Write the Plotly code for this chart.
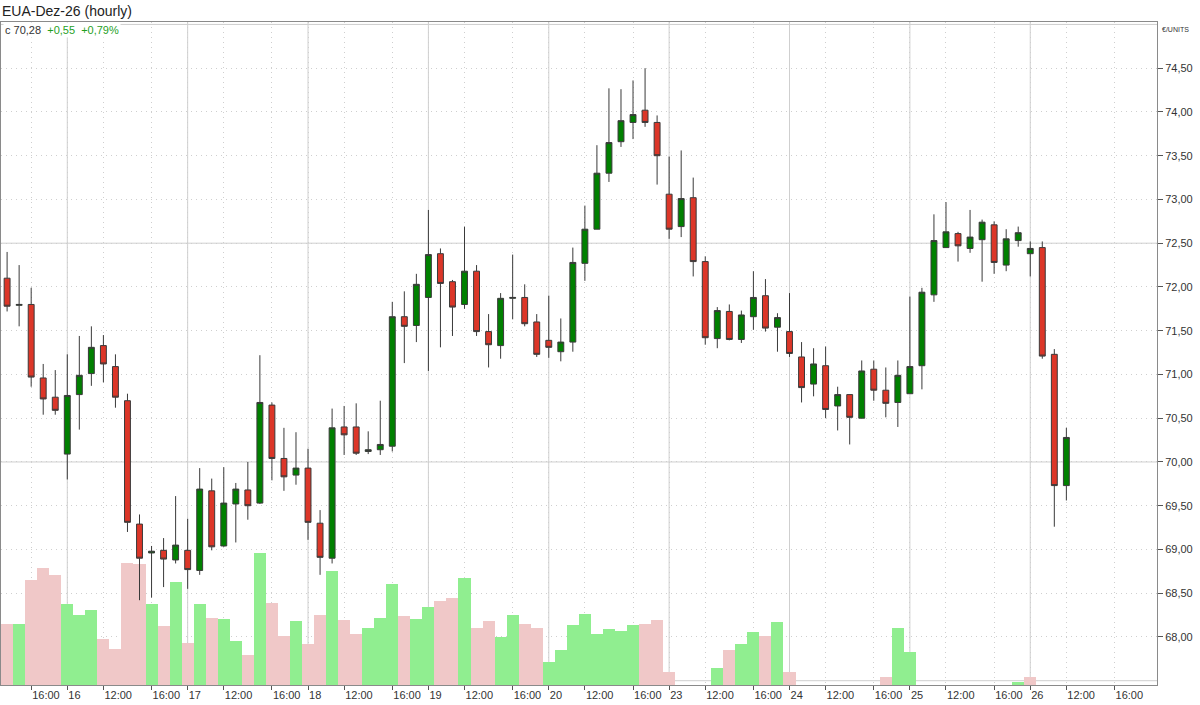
import plotly.graph_objects as go

# hourly candles, index 0 = day 15 14:00 ... index 88 = day 26 12:00
opens = [72.10, 71.79, 71.80, 70.96, 70.74, 70.09, 70.77, 71.01, 71.33, 71.09,
         70.70, 69.29, 68.96, 68.99, 68.88, 68.99, 68.76, 69.67, 69.04, 69.52,
         69.68, 69.53, 70.65, 70.04, 69.85, 69.93, 69.30, 68.90, 70.40, 70.40,
         70.12, 70.14, 70.18, 71.66, 71.56, 71.88, 72.38, 72.06, 71.80, 72.18,
         71.49, 71.33, 71.87, 71.88, 71.60, 71.39, 71.26, 71.37, 72.27, 72.66,
         73.30, 73.66, 73.88, 74.02, 73.88, 73.06, 72.69, 73.02, 72.29, 71.41,
         71.72, 71.40, 71.66, 71.90, 71.54, 71.49, 71.20, 70.89, 71.10, 70.64,
         70.77, 70.50, 71.06, 70.82, 70.68, 70.78, 71.10, 71.91, 72.45, 72.61,
         72.44, 72.54, 72.71, 72.25, 72.53, 72.38, 72.45, 71.23, 69.73]
highs = [72.40, 72.25, 71.99, 71.12, 71.05, 71.23, 71.44, 71.55, 71.45, 71.23,
         70.78, 69.40, 69.04, 69.13, 69.61, 69.35, 69.93, 69.81, 69.94, 69.76,
         70.00, 71.22, 70.68, 70.39, 70.34, 70.15, 69.45, 70.61, 70.64, 70.67,
         70.35, 70.70, 71.83, 71.95, 72.15, 72.88, 72.44, 72.08, 72.69, 72.25,
         71.69, 71.93, 72.37, 72.03, 71.69, 71.90, 71.64, 72.45, 72.93, 73.62,
         74.27, 74.26, 74.36, 74.50, 73.96, 73.49, 73.56, 73.25, 72.35, 71.77,
         71.80, 71.73, 72.18, 72.09, 71.70, 71.93, 71.37, 71.30, 71.32, 70.86,
         70.77, 71.16, 71.16, 71.08, 71.16, 71.89, 71.99, 72.83, 72.97, 72.63,
         72.88, 72.77, 72.75, 72.66, 72.69, 72.52, 72.52, 71.29, 70.39]
lows = [71.72, 71.55, 70.86, 70.54, 70.54, 69.80, 70.37, 70.87, 70.91, 70.62,
        69.20, 68.42, 68.45, 68.57, 68.84, 68.55, 68.71, 68.99, 69.03, 69.08,
        69.34, 69.52, 69.79, 69.67, 69.74, 69.11, 68.71, 68.84, 70.08, 70.08,
        70.09, 70.08, 70.12, 71.13, 71.37, 71.04, 71.31, 71.44, 71.75, 71.44,
        71.08, 71.18, 71.63, 71.55, 71.20, 71.19, 71.15, 71.26, 72.07, 72.66,
        73.20, 73.60, 73.69, 73.83, 73.17, 72.55, 72.57, 72.12, 71.34, 71.30,
        71.39, 71.36, 71.51, 71.49, 71.26, 71.20, 70.68, 70.75, 70.50, 70.36,
        70.20, 70.50, 70.70, 70.51, 70.40, 70.78, 70.83, 71.83, 72.45, 72.29,
        72.39, 72.06, 72.15, 72.18, 72.46, 72.12, 71.18, 69.26, 69.56]
closes = [71.78, 71.80, 70.97, 70.72, 70.59, 70.76, 70.99, 71.31, 71.12, 70.74,
          69.31, 68.90, 68.98, 68.89, 69.05, 68.77, 69.69, 69.03, 69.53, 69.69,
          69.50, 70.68, 70.04, 69.83, 69.93, 69.31, 68.91, 70.39, 70.31, 70.10,
          70.14, 70.20, 71.66, 71.55, 72.03, 72.37, 72.04, 71.77, 72.18, 71.49,
          71.34, 71.87, 71.88, 71.58, 71.23, 71.31, 71.37, 72.28, 72.66, 73.30,
          73.65, 73.90, 73.97, 73.88, 73.50, 72.66, 73.01, 72.29, 71.42, 71.73,
          71.40, 71.68, 71.88, 71.53, 71.65, 71.24, 70.85, 71.12, 70.60, 70.77,
          70.51, 71.04, 70.82, 70.67, 70.99, 71.09, 71.94, 72.53, 72.63, 72.47,
          72.57, 72.74, 72.28, 72.55, 72.62, 72.44, 71.21, 69.73, 70.28]
volumes = [61, 61, 105, 117, 110, 81, 70, 75, 46, 36,
           122, 121, 81, 59, 103, 42, 81, 67, 66, 44,
           30, 132, 82, 49, 64, 41, 70, 114, 65, 51,
           57, 67, 101, 69, 66, 78, 84, 87, 107, 57,
           64, 48, 70, 61, 57, 23, 35, 60, 71, 51,
           56, 54, 60, 61, 65, 13, 0, 0, 0, 17,
           35, 41, 53, 49, 63, 13, 0, 0, 0, 0,
           0, 0, 0, 8, 57, 33, 0, 0, 0, 0,
           0, 0, 0, 0, 3, 8, 0, 0, 0]

day_labels = ["16", "17", "18", "19", "20", "23", "24", "25", "26"]
price_ticks = [68.0, 68.5, 69.0, 69.5, 70.0, 70.5, 71.0, 71.5, 72.0, 72.5,
               73.0, 73.5, 74.0, 74.5]
major_levels = [67.5, 70.0, 72.5, 75.0]
first_day_index = 5
bars_per_day = 10

x = list(range(len(closes)))

# tick labels: day start, 12:00, 16:00
tick_vals = [2]
tick_text = ["16:00"]
day_starts = []
for k, d in enumerate(day_labels):
    s = first_day_index + k * bars_per_day
    day_starts.append(s)
    tick_vals += [s, s + 3, s + 7]
    tick_text += [d, "12:00", "16:00"]

# volume colour follows close vs previous close
vol_colors = []
prev = opens[0]
for c in closes:
    vol_colors.append("#90ee90" if c >= prev else "#f0c8c8")
    prev = c

fig = go.Figure()
fig.add_trace(go.Bar(x=x, y=volumes, width=1, marker_color=vol_colors,
                     marker_line_width=0, yaxis="y", showlegend=False))
fig.add_trace(go.Candlestick(
    x=x, open=opens, high=highs, low=lows, close=closes, yaxis="y2",
    increasing=dict(fillcolor="#008000", line=dict(color="#3a3a3a", width=1)),
    decreasing=dict(fillcolor="#dc3628", line=dict(color="#3a3a3a", width=1)),
    whiskerwidth=0, showlegend=False))

grid = "#cfcfcf"
shapes = []
for s in day_starts:
    shapes.append(dict(type="line", xref="x", yref="paper", x0=s, x1=s, y0=0, y1=1,
                       line=dict(color=grid, width=1), layer="between"))
for lvl in major_levels:
    shapes.append(dict(type="line", xref="paper", yref="y2", x0=0, x1=1, y0=lvl, y1=lvl,
                       line=dict(color=grid, width=1), layer="between"))

fig.update_layout(
    width=1200, height=705,
    margin=dict(l=1, r=43, t=22, b=20),
    paper_bgcolor="white", plot_bgcolor="white",
    font=dict(family="Liberation Sans", size=11, color="#333333"),
    separators=",.",
    bargap=0,
    shapes=shapes,
    xaxis=dict(range=[-0.507, 95.53], tickvals=tick_vals, ticktext=tick_text,
               ticks="outside", ticklen=4, tickcolor="#555555",
               ticklabelposition="outside right",
               showgrid=True, gridcolor=grid, griddash="1px,4px",
               showline=True, linecolor="#8a8a8a", mirror=True,
               rangeslider=dict(visible=False), zeroline=False),
    yaxis=dict(range=[0, 663], visible=False),
    yaxis2=dict(range=[67.451, 75.028], overlaying="y", side="right",
                tickvals=price_ticks, tickformat=".2f",
                ticks="outside", ticklen=5, tickcolor="#555555",
                showgrid=True, gridcolor=grid, griddash="1px,4px",
                showline=True, linecolor="#8a8a8a", mirror=True, zeroline=False),
    title=dict(text="EUA-Dez-26 (hourly)", x=2 / 1200, xanchor="left",
               y=1 - 11 / 705, yanchor="middle",
               font=dict(family="Liberation Sans", size=14, color="#222222")),
    annotations=[
        dict(text="c 70,28&nbsp;&nbsp;<span style='color:#1f9f1f'>+0,55&nbsp;&nbsp;+0,79%</span>",
             xref="paper", yref="paper", x=0.002, y=(685 - 30) / 663,
             xanchor="left", yanchor="middle", showarrow=False,
             bgcolor="white", font=dict(size=11, color="#333333")),
        dict(text="€/UNITS", xref="paper", yref="paper", x=(1160 - 1) / 1156,
             y=(685 - 30) / 663, xanchor="left", yanchor="middle", showarrow=False,
             font=dict(size=7, color="#333333")),
    ],
)

fig.write_html("out.html", config={"displayModeBar": False},
               post_script="document.body.style.margin='0';document.body.style.padding='0';")
